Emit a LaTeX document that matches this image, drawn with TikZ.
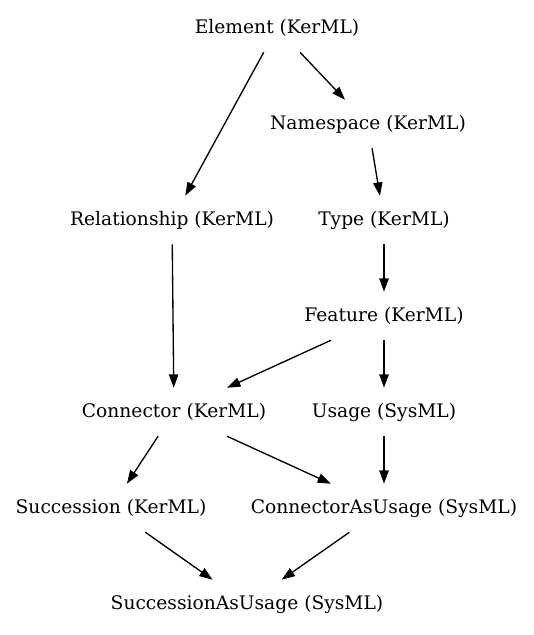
\documentclass[tikz,border=0pt]{standalone}
\usepackage{fontspec}
\setmainfont{DejaVu Serif}
\usetikzlibrary{arrows.meta}

\tikzset{
	metaclass/.style={inner xsep=4pt,inner ysep=0pt,minimum height=36pt,font=\fontsize{14}{16}\selectfont},
	generalizes/.style={-{Triangle[length=10pt,width=7pt]},line width=1pt}
}

\begin{document}
\begin{tikzpicture}[x=0.75pt,y=-0.75pt]
	\useasboundingbox (0,0) rectangle (533,635);
	
	\node[metaclass] (element) at (277,28) {Element (KerML)};
	\node[metaclass] (namespace) at (368,124) {Namespace (KerML)};
	\node[metaclass] (relationship) at (172,220) {Relationship (KerML)};
	\node[metaclass] (type) at (384,220) {Type (KerML)};
	\node[metaclass] (feature) at (384,316) {Feature (KerML)};
	\node[metaclass] (connector) at (174,412) {Connector (KerML)};
	\node[metaclass] (usage) at (384,412) {Usage (SysML)};
	\node[metaclass] (succession) at (111,508) {Succession (KerML)};
	\node[metaclass] (connectorasusage) at (384,508) {ConnectorAsUsage (SysML)};
	\node[metaclass] (successionasusage) at (247,604) {SuccessionAsUsage (SysML)};
	
	\draw[generalizes] (element)--(relationship);	\draw[generalizes] (element)--(namespace);
	\draw[generalizes] (namespace)--(type);	\draw[generalizes] (type)--(feature);
	\draw[generalizes] (relationship)--(connector);	%KerML side
	\draw[generalizes] (feature)--(connector);	\draw[generalizes] (feature)--(usage);
	\draw[generalizes] (connector)--(succession);	\draw[generalizes] (connector)--(connectorasusage);
	\draw[generalizes] (usage)--(connectorasusage);	%SysML side
	\draw[generalizes] (succession)--(successionasusage);	\draw[generalizes] (connectorasusage)--(successionasusage);
\end{tikzpicture}
\end{document}
